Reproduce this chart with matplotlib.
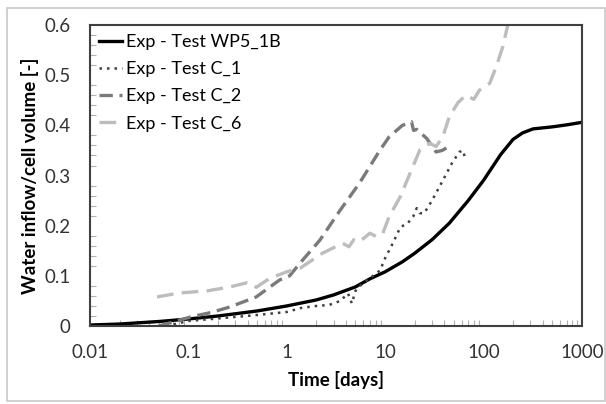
import numpy as np
import matplotlib.pyplot as plt
from matplotlib.ticker import MultipleLocator, LogLocator, FixedLocator
from matplotlib.patches import Rectangle

# Exp - Test WP5_1B
t_wp5 = [0.01, 0.02, 0.05, 0.1, 0.2, 0.5, 1, 2, 3, 5, 7, 10, 15, 20, 30, 45, 70, 100,
         150, 200, 250, 320, 500, 700, 1000]
v_wp5 = [0.002, 0.004, 0.009, 0.014, 0.020, 0.030, 0.040, 0.052, 0.062, 0.078, 0.094,
         0.108, 0.128, 0.145, 0.172, 0.205, 0.250, 0.290, 0.342, 0.372, 0.385, 0.393,
         0.397, 0.401, 0.406]

# Exp - Test C_1
t_c1 = [0.05, 0.07, 0.1, 0.15, 0.3, 0.5, 1.0, 1.4, 2.0, 2.7, 3.5, 4.2, 4.6, 5.0, 5.9,
        7.0, 8.9, 10, 12, 14.3, 17, 19.3, 21, 22.6, 25, 30, 38.6, 48, 57, 62, 65]
v_c1 = [0.0, 0.003, 0.01, 0.013, 0.018, 0.022, 0.028, 0.036, 0.040, 0.042, 0.050, 0.065,
        0.045, 0.070, 0.085, 0.095, 0.111, 0.135, 0.165, 0.197, 0.205, 0.218, 0.235,
        0.225, 0.225, 0.250, 0.290, 0.325, 0.347, 0.350, 0.335]

# Exp - Test C_2
t_c2 = [0.05, 0.07, 0.105, 0.17, 0.265, 0.49, 0.85, 1.07, 1.36, 2.17, 3.5, 5.5, 8.9,
        11, 15, 18.6, 19.5, 21, 26.5, 28.5, 33, 38, 44]
v_c2 = [0.0, 0.008, 0.018, 0.027, 0.038, 0.058, 0.092, 0.100, 0.125, 0.171, 0.231,
        0.285, 0.351, 0.377, 0.400, 0.407, 0.390, 0.392, 0.374, 0.365, 0.347, 0.350,
        0.357]

# Exp - Test C_6
t_c6 = [0.048, 0.082, 0.155, 0.265, 0.39, 0.45, 0.49, 0.67, 1.0, 1.36, 2.3, 3.7, 4.3,
        4.8, 5.5, 7.0, 8.2, 9.5, 11, 14.3, 17.9, 22.6, 28.5, 33, 38.6, 45, 55, 66, 80,
        91, 116, 135, 157, 177]
v_c6 = [0.058, 0.066, 0.070, 0.078, 0.086, 0.084, 0.077, 0.095, 0.108, 0.115, 0.145,
        0.165, 0.158, 0.172, 0.168, 0.185, 0.178, 0.185, 0.218, 0.258, 0.304, 0.351,
        0.364, 0.358, 0.377, 0.417, 0.445, 0.460, 0.452, 0.470, 0.484, 0.517, 0.556,
        0.600]

labels = ['Exp - Test WP5_1B', 'Exp - Test C_1', 'Exp - Test C_2', 'Exp - Test C_6']

plt.rcParams['font.family'] = ['Lato', 'DejaVu Sans']

fig = plt.figure(figsize=(6.06, 4.04), dpi=100)
ax = fig.add_axes([0.1485, 0.193, 0.8115, 0.745])

ax.plot(t_wp5, v_wp5, color='black', lw=2.4, label=labels[0])
ax.plot(t_c1, v_c1, color='#404040', lw=1.8, ls=(0, (1, 2)), label=labels[1])
ax.plot(t_c2, v_c2, color='#7a7a7a', lw=2.4, ls=(0, (4, 2)), label=labels[2])
ax.plot(t_c6, v_c6, color='#bdbdbd', lw=2.4, ls=(0, (5, 2.5)), label=labels[3])

ax.set_xscale('log')
ax.set_xlim(0.01, 1000)
ax.set_ylim(0, 0.6)
ax.xaxis.set_major_locator(FixedLocator([0.01, 0.1, 1, 10, 100, 1000]))
ax.set_xticklabels(['0.01', '0.1', '1', '10', '100', '1000'])
ax.xaxis.set_minor_locator(LogLocator(base=10, subs=np.arange(2, 10)))
ax.set_yticks([0, 0.1, 0.2, 0.3, 0.4, 0.5, 0.6])
ax.set_yticklabels(['0', '0.1', '0.2', '0.3', '0.4', '0.5', '0.6'])
ax.yaxis.set_minor_locator(MultipleLocator(0.02))

ax.tick_params(which='major', direction='in', length=0, labelsize=13.5,
               colors='#333333')
ax.tick_params(which='minor', direction='in', length=4, color='#b0b0b0', width=0.8)
ax.tick_params(axis='x', which='major', pad=13)
ax.tick_params(axis='y', which='major', pad=14)
for s in ax.spines.values():
    s.set_color('#404040')
    s.set_linewidth(1.5)

ax.set_xlabel('Time [days]', fontsize=13.5, fontweight='bold', labelpad=7)
ax.set_ylabel('Water inflow/cell volume [-]', fontsize=13.5, fontweight='bold',
              labelpad=4)

ax.legend(loc='upper left', frameon=False, fontsize=13, handlelength=1.3,
          handletextpad=0.2, labelspacing=0.62, borderaxespad=0.1,
          bbox_to_anchor=(0.0, 1.0))

fig.patches.append(Rectangle((7 / 606, 3 / 404), 598 / 606, 393 / 404,
                             transform=fig.transFigure, fill=False,
                             edgecolor='#c8c8c8', lw=1.2))

fig.savefig('out.png', dpi=100)
